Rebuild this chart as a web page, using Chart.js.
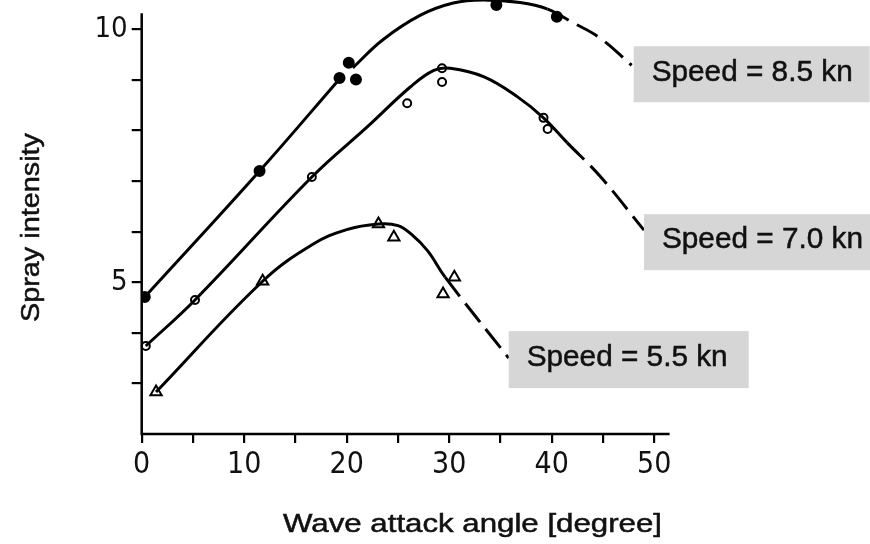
<!DOCTYPE html>
<html>
<head>
<meta charset="utf-8">
<script src="https://cdn.jsdelivr.net/npm/chart.js@4.4.1/dist/chart.umd.min.js"></script>
<style>
  html, body { margin: 0; padding: 0; background: #fff; }
  canvas { display: block; }
</style>
</head>
<body>
<canvas id="chart" width="870" height="544"></canvas>
<script>
"use strict";

// --- data ---
const speedLabels = ['Speed = 8.5 kn', 'Speed = 7.0 kn', 'Speed = 5.5 kn'];
const xTickLabels = ['0', '10', '20', '30', '40', '50'];
const yTickLabels = ['5', '10'];

// measured points
const pts85X = [0.3, 11.5, 19.3, 20.2, 20.9, 34.6, 40.5];
const pts85Y = [4.71, 7.2, 9.04, 9.34, 9.01, 10.48, 10.25];
const pts70X = [0.4, 5.2, 16.6, 25.9, 29.3, 29.3, 39.2, 39.6];
const pts70Y = [3.74, 4.65, 7.08, 8.54, 9.23, 8.96, 8.25, 8.03];
const pts55X = [1.4, 11.8, 23.1, 24.6, 30.5, 29.4];
const pts55Y = [2.83, 5.02, 6.15, 5.89, 5.1, 4.77];

// hand-drawn fitted curves (null = break in the line)
const curve85X = [0.3, 11.5, 19.3, 19.9, 20.6, 23.5, 27.2, 30.4, 33.3, 36.9, 39.6, 42.0, 44.7, 47.8];
const curve85Y = [4.71, 7.2, 9.02, null, 9.24, 9.79, 10.28, 10.52, 10.58, 10.53, 10.4, 10.14, 9.83, 9.29];
const curve70X = [0.4, 5.2, 16.6, 22.0, 26.2, 28.5, 30.1, 33.4, 36.7, 39.2, 41.5, 44.7, 49.0];
const curve70Y = [3.74, 4.65, 7.08, 8.07, 8.86, 9.19, 9.23, 9.06, 8.66, 8.25, 7.76, 7.1, 6.03];
const curve55X = [1.4, 11.8, 16.7, 20.0, 23.1, 25.0, 26.3, 27.9, 29.6, 35.8];
const curve55Y = [2.83, 5.02, 5.75, 6.04, 6.15, 6.12, 5.95, 5.62, 5.1, 3.5];

// extrapolated (dashed) part starts here
const dashFrom85 = 39.6;
const dashFrom70 = 41.5;
const dashFrom55 = 29.6;

// --- helpers ---
function zipXY(xs, ys) {
    return xs.map((x, i) => ({ x: x, y: ys[i] }));
}

function curveDataset(xs, ys, dashFrom) {
    return {
        type: 'line',
        data: zipXY(xs, ys),
        borderColor: '#000',
        borderWidth: 3,
        pointRadius: 0,
        fill: false,
        spanGaps: false,
        tension: 0.4,
        borderCapStyle: 'butt',
        segment: {
            borderDash: c => (c.p0.parsed.x >= dashFrom - 1e-9 ? [24, 9] : undefined)
        }
    };
}

function pointDataset(xs, ys, style, fillColor, radius) {
    return {
        type: 'scatter',
        data: zipXY(xs, ys),
        showLine: false,
        pointStyle: style,
        pointRadius: radius,
        pointBackgroundColor: fillColor,
        pointBorderColor: '#000',
        pointBorderWidth: 2
    };
}

// no extra padding from tick labels: chart area is fixed
function noPad(s) {
    s.paddingTop = 0;
    s.paddingBottom = 0;
    s.paddingLeft = 0;
    s.paddingRight = 0;
}

// text stretched horizontally to the width seen in the picture
function wideText(ctx, text, x, y, width) {
    ctx.measureText(text); // warm-up, first measure can be off
    const natural = ctx.measureText(text).width;
    ctx.save();
    ctx.translate(x, y);
    ctx.scale(width / natural, 1);
    ctx.fillText(text, 0, 0);
    ctx.lineWidth = 0.5;
    ctx.strokeStyle = ctx.fillStyle;
    ctx.strokeText(text, 0, 0);
    ctx.restore();
}

// boxes, titles and axis lines drawn on top
const overlay = {
    id: 'overlay',
    afterDatasetsDraw(chart) {
        const ctx = chart.ctx;
        const xs = chart.scales.x;
        const ys = chart.scales.y;
        ctx.save();

        // axis lines
        ctx.strokeStyle = '#000';
        ctx.lineWidth = 2.5;
        ctx.beginPath();
        ctx.moveTo(xs.getPixelForValue(0), ys.getPixelForValue(10.32));
        ctx.lineTo(xs.getPixelForValue(0), ys.getPixelForValue(2));
        ctx.lineTo(xs.getPixelForValue(51.5), ys.getPixelForValue(2));
        ctx.stroke();

        // label boxes at the end of each dashed line
        const ends = [
            [curve85X[curve85X.length - 1], curve85Y[curve85Y.length - 1]],
            [curve70X[curve70X.length - 1], curve70Y[curve70Y.length - 1]],
            [curve55X[curve55X.length - 1], curve55Y[curve55Y.length - 1]]
        ];
        const boxes = [
            { dx: 2, dy: -19, w: 236, h: 56 },
            { dx: 0, dy: -16, w: 227, h: 56 },
            { dx: 0, dy: -27, w: 240, h: 57 }
        ];
        ctx.font = '30px "Liberation Sans", Arial, sans-serif';
        ctx.textBaseline = 'middle';
        ctx.textAlign = 'left';
        ends.forEach((e, i) => {
            const b = boxes[i];
            const left = xs.getPixelForValue(e[0]) + b.dx;
            const top = ys.getPixelForValue(e[1]) + b.dy;
            ctx.fillStyle = '#d6d6d6';
            ctx.fillRect(left, top, b.w, b.h);
            ctx.fillStyle = '#111';
            wideText(ctx, speedLabels[i], left + 18, top + b.h / 2 - 2, 201);
        });

        // axis titles
        ctx.fillStyle = '#111';
        ctx.font = '25px "Liberation Sans", Arial, sans-serif';
        ctx.textBaseline = 'alphabetic';
        ctx.textAlign = 'left';
        wideText(ctx, 'Wave attack angle [degree]', 283, 532, 379);

        ctx.translate(39, 322);
        ctx.rotate(-Math.PI / 2);
        wideText(ctx, 'Spray intensity', 0, 0, 189);
        ctx.restore();
    }
};

const ctx = document.getElementById('chart').getContext('2d');
const chart = new Chart(ctx, {
    type: 'scatter',
    data: {
        datasets: [
            curveDataset(curve85X, curve85Y, dashFrom85),
            curveDataset(curve70X, curve70Y, dashFrom70),
            curveDataset(curve55X, curve55Y, dashFrom55),
            pointDataset(pts85X, pts85Y, 'circle', '#000', 5),
            pointDataset(pts70X, pts70Y, 'circle', '#fff', 4),
            pointDataset(pts55X, pts55Y, 'triangle', '#fff', 6.5)
        ]
    },
    options: {
        responsive: false,
        animation: false,
        events: [],
        layout: { autoPadding: false, padding: { left: 0, top: 0, right: 200.4, bottom: 0 } },
        plugins: {
            legend: { display: false },
            tooltip: { enabled: false }
        },
        scales: {
            x: {
                type: 'linear',
                min: 0,
                max: 51.5,
                afterFit: s => { s.height = 110; noPad(s); },
                afterBuildTicks: s => {
                    s.ticks = s.ticks.filter(t => Math.abs(t.value % 5) < 1e-9 && t.value <= 50);
                },
                border: { display: false },
                grid: {
                    drawOnChartArea: false,
                    drawTicks: true,
                    tickLength: 9,
                    color: '#000',
                    lineWidth: 2.2
                },
                ticks: {
                    stepSize: 5,
                    includeBounds: false,
                    autoSkip: false,
                    color: '#111',
                    padding: 4,
                    maxRotation: 0,
                    font: { family: '"Liberation Sans Narrow", "DejaVu Sans Condensed", sans-serif', size: 30 },
                    callback: v => {
                        const i = xTickLabels.indexOf(String(v));
                        return i >= 0 ? xTickLabels[i] : '';
                    }
                }
            },
            y: {
                type: 'linear',
                min: 2,
                max: 10.58,
                afterFit: s => { s.width = 141.7; noPad(s); },
                afterBuildTicks: s => {
                    s.ticks = s.ticks.filter(t => Number.isInteger(t.value) && t.value >= 3 && t.value <= 10);
                },
                border: { display: false },
                grid: {
                    drawOnChartArea: false,
                    drawTicks: true,
                    tickLength: 10,
                    color: '#000',
                    lineWidth: 2.2
                },
                ticks: {
                    stepSize: 1,
                    includeBounds: false,
                    autoSkip: false,
                    color: '#111',
                    padding: 4,
                    font: { family: '"Liberation Sans Narrow", "DejaVu Sans Condensed", sans-serif', size: 29 },
                    callback: v => {
                        const i = yTickLabels.indexOf(String(v));
                        return i >= 0 ? yTickLabels[i] : '';
                    }
                }
            }
        }
    },
    plugins: [overlay]
});
</script>
</body>
</html>
